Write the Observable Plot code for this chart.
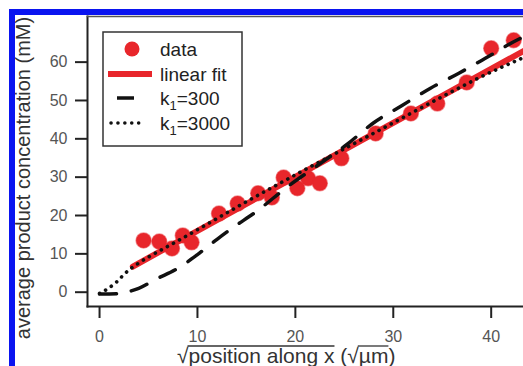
<!DOCTYPE html>
<html>
<head>
<meta charset="utf-8">
<script src="https://cdn.jsdelivr.net/npm/d3@7"></script>
<script src="https://cdn.jsdelivr.net/npm/@observablehq/plot@0.6"></script>
<style>
  html, body { margin: 0; padding: 0; background: #fff; }
  #wrap { position: relative; width: 523px; height: 366px; overflow: hidden; background: #fff; }
  #wrap svg { position: absolute; left: 0; top: 0; }
  .blue { position: absolute; background: #0a14f0; }
</style>
</head>
<body>
<div id="wrap"></div>
<script>
// ---- data ----
const dataX = [4.5, 6.1, 7.4, 8.5, 9.4, 12.2, 14.1, 16.2, 17.6, 18.8, 20.2, 21.3, 22.5, 24.7, 28.2, 31.8, 34.5, 37.5, 40.0, 42.3];
const dataY = [13.5, 13.2, 11.4, 14.8, 13.0, 20.5, 23.1, 25.8, 24.7, 29.9, 27.1, 29.7, 28.4, 34.9, 41.4, 46.6, 49.2, 54.7, 63.6, 65.7];

const fitX = [3.4, 43.3];
const fitY = [6.7, 62.9];

const k300X = [0, 1.8, 2.5, 4, 5.7, 8.1, 10, 12, 13.6, 16, 19.2, 22, 25.3, 28, 30.9, 33.8, 36.7, 39.4, 42.3, 43.3];
const k300Y = [-0.5, -0.4, -0.1, 1, 3.3, 6.4, 9.8, 13.8, 16.8, 21, 27.5, 32.6, 38.6, 44.2, 48.7, 53.2, 57.1, 61, 65.3, 66.6];

const k3000X = [0, 0.9, 1.8, 2.6, 4, 6, 8, 10, 15, 20, 25, 30, 35, 38.6, 43.3];
const k3000Y = [-0.3, 1, 2.8, 4.9, 7.6, 10.6, 13.4, 16.3, 23.6, 30.6, 37.4, 44.2, 51, 55.7, 61.2];

const xTicks = [0, 10, 20, 30, 40];
const yTicks = [0, 10, 20, 30, 40, 50, 60];
const xDomain = [-1.23, 43.3];
const yDomain = [-3.73, 71.9];

const legendLabels = ["data", "linear fit", "k|1|=300", "k|1|=3000"];
const yLabel = "average product concentration (mM)";
const xLabelParts = ["√", "position along x", " (", "√", "µm", ")"];

const RED = "#e8262b";
const FONT = "'Liberation Sans', Arial, Helvetica, sans-serif";

const pts = dataX.map((x, i) => ({x, y: dataY[i]}));
const fit = fitX.map((x, i) => ({x, y: fitY[i]}));
const k300 = k300X.map((x, i) => ({x, y: k300Y[i]}));
const k3000 = k3000X.map((x, i) => ({x, y: k3000Y[i]}));

const plot = Plot.plot({
  width: 523,
  height: 366,
  marginLeft: 87,
  marginRight: 0,
  marginTop: 16,
  marginBottom: 60,
  style: {fontFamily: FONT, fontSize: "16px", color: "#555", background: "transparent", overflow: "visible"},
  x: {domain: xDomain},
  y: {domain: yDomain},
  marks: [
    Plot.line(fit, {x: "x", y: "y", stroke: RED, strokeWidth: 6, clip: true}),
    Plot.dot(pts, {x: "x", y: "y", r: 7.5, fill: RED, stroke: RED, strokeOpacity: 0.5, strokeWidth: 1.5}),
    Plot.line(k300, {x: "x", y: "y", stroke: "#111", strokeWidth: 3.5, strokeDasharray: "17 15", curve: "monotone-x", clip: true}),
    Plot.line(k3000, {x: "x", y: "y", stroke: "#111", strokeWidth: 3.6, strokeDasharray: "0.1 6.8", strokeLinecap: "round", curve: "monotone-x", clip: true}),
    Plot.frame({anchor: "left", stroke: "#222", strokeWidth: 2}),
    Plot.frame({anchor: "bottom", stroke: "#222", strokeWidth: 2}),
    Plot.frame({anchor: "top", stroke: "#555", strokeWidth: 1.5}),
    Plot.axisX({ticks: xTicks, tickSize: 12, tickPadding: 12, stroke: "#222", strokeWidth: 2, fill: "#555", fontSize: 16, label: null}),
    Plot.axisY({ticks: yTicks, tickSize: 12, tickPadding: 8, stroke: "#222", strokeWidth: 2, fill: "#555", fontSize: 16, label: null})
  ]
});

const wrap = document.getElementById("wrap");
wrap.appendChild(plot);

const svg = d3.select(plot);

// y axis label
svg.append("text")
  .attr("transform", "translate(30,178) rotate(-90)")
  .attr("text-anchor", "middle")
  .attr("font-family", FONT)
  .attr("font-size", 20)
  .attr("fill", "#333")
  .text(yLabel);

// x axis label with radical overlines
const xl = svg.append("text")
  .attr("x", 177)
  .attr("y", 363)
  .attr("text-anchor", "start")
  .attr("font-family", FONT)
  .attr("font-size", 21)
  .attr("fill", "#333");
xl.text(xLabelParts.join(""));
const xnode = xl.node();
const overY = 346;
function charRange(a, b) {
  const s = xnode.getExtentOfChar(a), e = xnode.getExtentOfChar(b);
  return [s.x, e.x + e.width];
}
const p0 = xLabelParts[0].length;
const r1 = charRange(p0, p0 + xLabelParts[1].length - 1);
const p3 = p0 + xLabelParts[1].length + xLabelParts[2].length + xLabelParts[3].length;
const r2 = charRange(p3, p3 + xLabelParts[4].length - 1);
[r1, r2].forEach(([a, b]) => {
  svg.append("line")
    .attr("x1", a - 1).attr("x2", b)
    .attr("y1", overY).attr("y2", overY)
    .attr("stroke", "#333").attr("stroke-width", 1.3);
});

// legend
const lg = svg.append("g").attr("text-anchor", "start");
lg.append("rect")
  .attr("x", 103).attr("y", 32).attr("width", 139).attr("height", 114)
  .attr("fill", "#fff").attr("stroke", "#333").attr("stroke-width", 1.5);
const rowY = [49, 74, 98, 123];
lg.append("circle").attr("cx", 132).attr("cy", rowY[0]).attr("r", 7.5).attr("fill", RED);
lg.append("line").attr("x1", 108).attr("x2", 152).attr("y1", rowY[1]).attr("y2", rowY[1])
  .attr("stroke", RED).attr("stroke-width", 6);
lg.append("line").attr("x1", 117).attr("x2", 134).attr("y1", rowY[2]).attr("y2", rowY[2])
  .attr("stroke", "#111").attr("stroke-width", 3.5);
lg.append("line").attr("x1", 111).attr("x2", 144).attr("y1", rowY[3]).attr("y2", rowY[3])
  .attr("stroke", "#111").attr("stroke-width", 3.5).attr("stroke-dasharray", "0.1 6.8").attr("stroke-linecap", "round");
legendLabels.forEach((lab, i) => {
  const t = lg.append("text")
    .attr("x", 160).attr("y", rowY[i] + 7)
    .attr("text-anchor", "start")
    .attr("font-family", FONT).attr("font-size", 19).attr("fill", "#222");
  const parts = lab.split("|");
  if (parts.length === 1) {
    t.text(lab);
  } else {
    t.append("tspan").text(parts[0]);
    t.append("tspan").attr("dy", 5).attr("font-size", 13).text(parts[1]);
    t.append("tspan").attr("dy", -5).text(parts[2]);
  }
});

// blue figure border
const blueTop = document.createElement("div");
blueTop.className = "blue";
Object.assign(blueTop.style, {left: "9px", top: "9px", width: "514px", height: "6px"});
const blueLeft = document.createElement("div");
blueLeft.className = "blue";
Object.assign(blueLeft.style, {left: "9px", top: "9px", width: "6px", height: "357px"});
wrap.appendChild(blueTop);
wrap.appendChild(blueLeft);
</script>
</body>
</html>
